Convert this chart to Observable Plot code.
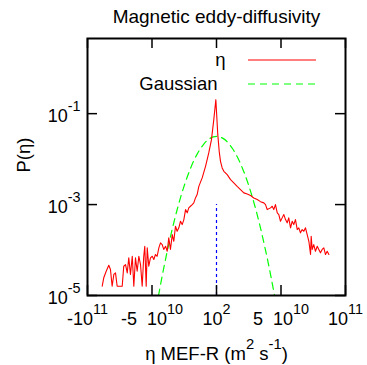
<!DOCTYPE html>
<html><head><meta charset="utf-8">
<script src="https://cdn.jsdelivr.net/npm/d3@7"></script>
<script src="https://cdn.jsdelivr.net/npm/@observablehq/plot@0.6"></script>
<style>body{margin:0;background:#fff} svg{display:block}</style>
</head><body><div id="chart"></div>
<script>
// eta MEF-R values in units of 1e10 m^2 s^-1, and probability density
const etaX = [-8.86,-8.74,-8.55,-8.35,-8.22,-8.09,-7.96,-7.83,-7.70,-7.31,-7.19,-7.05,-6.92,-6.80,-6.67,-6.53,-6.41,-6.28,-6.15,-6.02,-5.89,-5.76,-5.64,-5.56,-5.45,-5.37,-5.25,-5.12,-4.98,-4.86,-4.73,-4.60,-4.47,-4.34,-4.21,-4.09,-3.95,-3.82,-3.70,-3.57,-3.43,-3.31,-3.18,-3.05,-2.92,-2.79,-2.66,-2.53,-2.40,-2.27,-2.15,-2.02,-1.88,-1.76,-1.63,-1.50,-1.37,-1.11,-0.85,-0.60,-0.39,-0.21,-0.05,0.10,0.21,0.31,0.44,0.57,0.83,1.09,1.34,1.60,1.86,2.12,2.38,2.64,2.89,3.16,3.41,3.67,3.80,3.93,4.19,4.32,4.44,4.57,4.71,4.83,4.96,5.09,5.22,5.35,5.48,5.60,5.74,5.87,5.99,6.12,6.26,6.38,6.51,6.64,6.77,6.90,7.03,7.16,7.29,7.34,7.42,7.54,7.67,7.81,7.93,8.06,8.19,8.32,8.45,8.58,8.71];
const etaP = [1.6e-5,2.45e-5,3.42e-5,4.63e-5,3.73e-5,1.6e-5,2.9e-5,3.15e-5,1.6e-5,1.6e-5,4.4e-5,4.8e-5,3.15e-5,6.75e-5,2.9e-5,7.3e-5,1.6e-5,6.75e-5,3.42e-5,7.3e-5,4.8e-5,1.6e-5,7.3e-5,1.21e-4,1.6e-5,1.12e-4,4.4e-5,6.75e-5,7.3e-5,6.2e-5,7.96e-5,7.3e-5,1.12e-4,1.44e-4,1.32e-4,1.03e-4,1.21e-4,9.4e-5,1.85e-4,1.03e-4,2.19e-4,1.56e-4,3.33e-4,2.59e-4,3.08e-4,4.3e-4,3.63e-4,4.68e-4,7.76e-4,6.57e-4,8.46e-4,9.18e-4,1.0e-3,1.09e-3,1.40e-3,1.66e-3,2.52e-3,3.86e-3,6.95e-3,1.37e-2,2.68e-2,7.38e-2,0.203,3.45e-2,1.48e-2,8.95e-3,6.41e-3,5.4e-3,4.56e-3,3.54e-3,3.0e-3,2.52e-3,2.14e-3,1.81e-3,1.70e-3,1.58e-3,1.40e-3,1.29e-3,1.16e-3,1.09e-3,1.0e-3,7.76e-4,8.46e-4,9.18e-4,7.76e-4,1.0e-3,6.57e-4,6.03e-4,4.3e-4,5.1e-4,6.03e-4,4.68e-4,3.96e-4,5.1e-4,3.08e-4,4.3e-4,3.63e-4,4.68e-4,2.82e-4,3.08e-4,2.39e-4,2.82e-4,2.59e-4,3.08e-4,2.19e-4,1.56e-4,7.96e-5,2.01e-4,1.03e-4,1.32e-4,9.4e-5,1.21e-4,1.03e-4,8.67e-5,1.03e-4,1.12e-4,7.96e-5,9.4e-5,7.96e-5];
// Gaussian fit
const gaussX = [-4.5,-4.25,-4.0,-3.75,-3.5,-3.25,-3.0,-2.75,-2.5,-2.25,-2.0,-1.75,-1.5,-1.25,-1.0,-0.75,-0.5,-0.25,0,0.25,0.5,0.75,1.0,1.25,1.5,1.75,2.0,2.25,2.5,2.75,3.0,3.25,3.5,3.75,4.0,4.25,4.5];
const gaussP = [9.8e-6,2.35e-5,5.36e-5,1.16e-4,2.39e-4,4.69e-4,8.73e-4,1.55e-3,2.61e-3,4.20e-3,6.41e-3,9.33e-3,1.29e-2,1.69e-2,2.12e-2,2.53e-2,2.86e-2,3.08e-2,3.16e-2,3.08e-2,2.86e-2,2.53e-2,2.12e-2,1.69e-2,1.29e-2,9.33e-3,6.41e-3,4.20e-3,2.61e-3,1.55e-3,8.73e-4,4.69e-4,2.39e-4,1.16e-4,5.36e-5,2.35e-5,9.8e-6];
// vertical mean marker
const meanX = [0];
const meanLow = [1e-5];
const meanHigh = [1e-3];
// axes
const xTicks = [-10, -5, 0, 5, 10];
const xTickLabels = ["-10^{11}", "-5\u00a0\u00a010^{10}", "10^{2}", "5\u00a0\u00a010^{10}", "10^{11}"];
const yTicks = [1e-1, 1e-3, 1e-5];
const yTickLabels = ["10^{-1}", "10^{-3}", "10^{-5}"];
const seriesNames = ["η", "Gaussian"];
const seriesColors = ["#ff0000", "#00ff00"];
const titleText = "Magnetic eddy-diffusivity";
const xLabel = "η MEF-R (m^{2} s^{-1})";
const yLabel = "P(η)";

const W = 367, H = 365, mL = 87, mR = 22, mT = 38, mB = 70;
const fw = W - mL - mR, fh = H - mT - mB;

const eta = etaX.map((x, i) => ({x, p: etaP[i]}));
const gauss = gaussX.map((x, i) => ({x, p: gaussP[i]}));
const mean = meanX.map((x, i) => ({x, lo: meanLow[i], hi: meanHigh[i]}));
const xt = xTicks.map((v, i) => ({v, label: xTickLabels[i]}));
const yt = yTicks.map((v, i) => ({v, label: yTickLabels[i]}));

const LA = {lineAnchor: "middle"};
const plot = Plot.plot({
  width: W, height: H,
  marginLeft: mL, marginRight: mR, marginTop: mT, marginBottom: mB,
  style: {fontFamily: "'Liberation Sans', Arial, sans-serif", fontSize: "18px", background: "#fff", color: "#000"},
  x: {domain: [-10, 10], axis: null},
  y: {type: "log", domain: [1e-5, 4.5], axis: null},
  marks: [
    Plot.ruleX(mean, {x: "x", y1: "lo", y2: "hi", stroke: "#0000ff", strokeWidth: 1.2, strokeDasharray: "3,3"}),
    Plot.line(gauss, {x: "x", y: "p", stroke: seriesColors[1], strokeWidth: 1.2, strokeDasharray: "7,5", curve: "catmull-rom", clip: true}),
    Plot.line(eta, {x: "x", y: "p", stroke: seriesColors[0], strokeWidth: 1.1, clip: true}),
    Plot.ruleY(yt, {y: "v", insetRight: fw - 10, strokeWidth: 1.5}),
    Plot.ruleY(yt, {y: "v", insetLeft: fw - 10, strokeWidth: 1.5}),
    Plot.ruleX(xt, {x: "v", insetTop: fh - 10, strokeWidth: 1.5}),
    Plot.ruleX(xt, {x: "v", insetBottom: fh - 10, strokeWidth: 1.5}),
    Plot.frame({stroke: "#000", strokeWidth: 2}),
    Plot.text(yt, {...LA, y: "v", text: "label", frameAnchor: "left", textAnchor: "end", dx: -7, dy: 3, fontSize: 18}),
    Plot.text(xt, {...LA, x: "v", text: "label", frameAnchor: "bottom", dy: 24, fontSize: 18}),
    Plot.text([titleText], {...LA, text: d => d, frameAnchor: "top", dy: -22, fontSize: 19}),
    Plot.text([xLabel], {...LA, text: d => d, frameAnchor: "bottom", dy: 59, fontSize: 18.5}),
    Plot.text([yLabel], {...LA, text: d => d, frameAnchor: "left", rotate: -90, dx: -63, dy: 5.5, fontSize: 18.5}),
    Plot.text([seriesNames[0]], {...LA, text: d => d, frameAnchor: "top-right", textAnchor: "end", dx: -120, dy: 22, fontSize: 18.5}),
    Plot.text([seriesNames[1]], {...LA, text: d => d, frameAnchor: "top-right", textAnchor: "end", dx: -128, dy: 46, fontSize: 18.5})
  ]
});
document.getElementById("chart").appendChild(plot);

// legend samples
const lg = d3.select(plot).append("g");
[["#ff0000", null, 22], ["#00ff00", "7,5", 46]].forEach(([c, dash, dy]) => {
  lg.append("line").attr("x1", W - mR - 97).attr("x2", W - mR - 29)
    .attr("y1", mT + dy).attr("y2", mT + dy)
    .attr("stroke", c).attr("stroke-width", 1.2).attr("stroke-dasharray", dash);
});

// superscripts: "^{...}" -> raised tspans
const NS = "http://www.w3.org/2000/svg";
plot.querySelectorAll("text").forEach(el => {
  const s = el.textContent;
  if (!s.includes("^{")) return;
  const fs = parseFloat(getComputedStyle(el).fontSize) || 18;
  const rise = Math.round(fs * 0.6);
  const parts = s.split(/\^\{([^}]*)\}/);
  el.textContent = "";
  let cur = 0;
  parts.forEach((p, i) => {
    if (!p) return;
    const t = document.createElementNS(NS, "tspan");
    t.textContent = p;
    const target = i % 2 ? -rise : 0;
    if (target !== cur) t.setAttribute("dy", target - cur);
    cur = target;
    if (i % 2) t.setAttribute("font-size", (fs * 0.8) + "px");
    el.appendChild(t);
  });
});
</script></body></html>
